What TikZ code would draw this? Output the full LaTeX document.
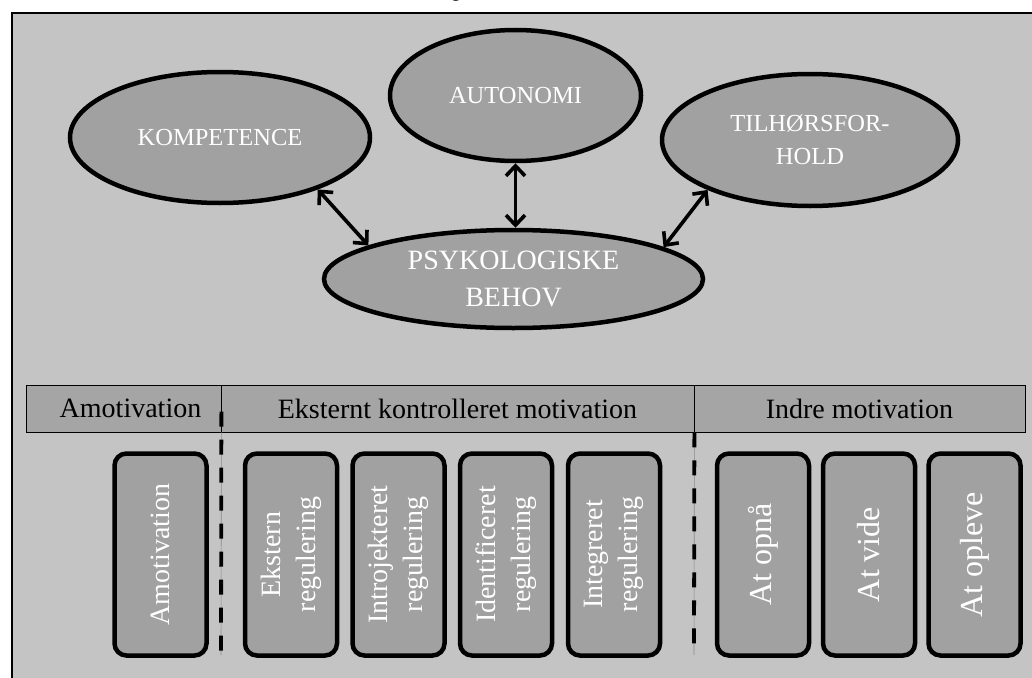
\documentclass[tikz,border=0pt]{standalone}
\usepackage{fontspec}
\setmainfont{Liberation Serif}
\newfontfamily\titlefont{Carlito}
\usetikzlibrary{shapes.geometric,arrows.meta}
\definecolor{bggray}{HTML}{C4C4C4}
\definecolor{shapegray}{HTML}{A1A1A1}
\definecolor{cellgray}{HTML}{A5A5A5}
\definecolor{divgray}{HTML}{8A8A8A}
\begin{document}
\begin{tikzpicture}[x=1pt,y=-1pt,
  need/.style={ellipse, draw=black, line width=4.5pt, fill=shapegray, text=white,
    inner sep=0pt, align=center},
  needfont/.style={font=\fontsize{24.5}{33}\selectfont},
  twoway/.style={{Straight Barb[length=10pt,width=19pt]}-{Straight Barb[length=10pt,width=19pt]},
    line width=3.6pt, line cap=round},
  cell/.style={rectangle, draw=black, line width=0.8pt, fill=cellgray, minimum height=47pt,
    inner sep=0pt, font=\fontsize{28}{34}\selectfont},
  motbox/.style={rectangle, rounded corners=12pt, draw=black, line width=4.5pt, fill=shapegray,
    text=white, rotate=90, minimum width=202pt, minimum height=92pt, inner sep=0pt,
    align=center, font=\fontsize{28}{35}\selectfont},
  bigtext/.style={font=\fontsize{32}{38}\selectfont},
  sepline/.style={line width=3.8pt, dash pattern=on 15pt off 13pt},
  thinsep/.style={draw=divgray, line width=0.6pt}]
\useasboundingbox (0,0) rectangle (1032,677);
% frame
\draw[line width=1.5pt, fill=bggray] (12,13) rectangle (1050,700);
% cut-off title fragment
\node[font=\titlefont\fontsize{22}{26}\selectfont, anchor=base, inner sep=0pt] (ttl) at (456,-2) {g};
% needs
\node[need, needfont, minimum width=300pt, minimum height=131pt] (kom) at (220,137.5) {KOMPETENCE};
\node[need, needfont, minimum width=251pt, minimum height=131pt] (aut) at (515.5,95.5) {AUTONOMI};
\node[need, needfont, minimum width=296pt, minimum height=132pt] (til) at (810,140) {TILHØRSFOR-\\HOLD};
\node[need, font=\fontsize{28}{37}\selectfont, minimum width=379pt, minimum height=98pt] (psy) at (513.5,279) {PSYKOLOGISKE\\BEHOV};
% arrows
\draw[twoway] (kom.-28) -- (psy.167);
\draw[twoway] (aut.south) -- (aut.south |- psy.north);
\draw[twoway] (til.206) -- (psy.12);
% header
\node[cell, minimum width=195pt] (h1) at (123.5,408.5) {\hspace*{14pt}Amotivation};
\node[cell, minimum width=473pt] (h2) at (457.5,408.5) {Eksternt kontrolleret motivation};
\node[cell, minimum width=331pt] (h3) at (859.5,408.5) {Indre motivation};
% separators
\coordinate (d1end) at (221,655);
\coordinate (d2end) at (694,655);
\draw[thinsep] (h1.south east) -- (d1end);
\draw[thinsep] (h2.south east) -- (d2end);
\draw[sepline] ([yshift=-3pt]h1.east) -- (d1end);
\draw[sepline] (h2.south east) -- (d2end);
% boxes
\node[motbox] (b1) at (160.5,554.5) {Amotivation};
\node[motbox] (b2) at (291,554.5) {Ekstern\\regulering};
\node[motbox] (b3) at (398.5,554.5) {Introjekteret\\regulering};
\node[motbox] (b4) at (506,554.5) {Identificeret\\regulering};
\node[motbox] (b5) at (614,554.5) {Integreret\\regulering};
\node[motbox, bigtext] (b6) at (763,554.5) {At opnå};
\node[motbox, bigtext] (b7) at (869,554.5) {At vide};
\node[motbox, bigtext] (b8) at (974.5,554.5) {At opleve};
\end{tikzpicture}
\end{document}
